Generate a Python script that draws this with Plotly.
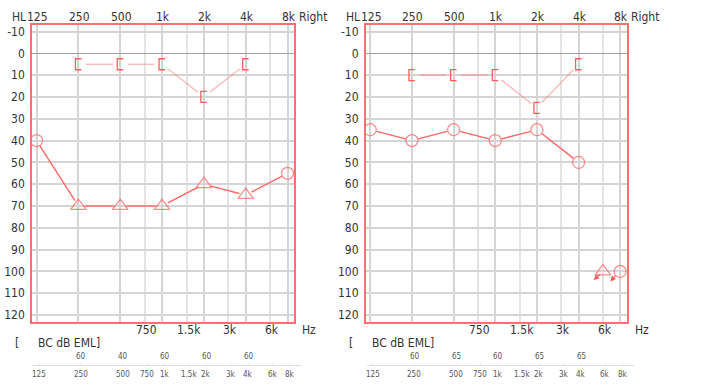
import math
import plotly.graph_objects as go

W, H = 711, 387

# ---------------- data ----------------
top_freqs = [125, 250, 500, 1000, 2000, 4000, 8000]
top_labels = ["125", "250", "500", "1k", "2k", "4k", "8k"]
mid_freqs = [750, 1500, 3000, 6000]
mid_labels = ["750", "1.5k", "3k", "6k"]
table_freqs = [125, 250, 500, 750, 1000, 1500, 2000, 3000, 4000, 6000, 8000]
table_labels = ["125", "250", "500", "750", "1k", "1.5k", "2k", "3k", "4k", "6k", "8k"]
db_ticks = list(range(-10, 121, 10))
db_tick_labels = [str(v) for v in db_ticks]

bc_freqs = [250, 500, 1000, 2000, 4000]
left_bc_db = [5, 5, 5, 20, 5]
right_bc_db = [10, 10, 10, 25, 5]

left_ac_freqs = [125, 250, 500, 1000, 2000, 4000, 8000]
left_ac_db = [40, 70, 70, 70, 60, 65, 55]
left_ac_masked = [False, True, True, True, True, True, False]

right_ac_freqs = [125, 250, 500, 1000, 2000, 4000]
right_ac_db = [35, 40, 35, 40, 35, 50]
right_ac_masked = [False, False, False, False, False, False]

right_nr_freqs = [6000, 8000]
right_nr_db = [100, 100]
right_nr_masked = [True, False]

eml_freqs = [250, 500, 1000, 2000, 4000]
left_eml = [60, 40, 60, 60, 60]
right_eml = [60, 65, 60, 65, 65]

# ---------------- geometry / style ----------------
X_RANGE = [-0.11, 6.155]
Y_RANGE = [123.2, -13.0]
TOP_PX, BOT_PX = 25, 322
PANELS = [(32, 294), (365.7, 626.7)]

RED = "#ff5c5c"
BOX = "#ff6f6f"
BC_LINE = "rgba(255,110,110,0.55)"
AC_LINE = "#ff6666"
TXT = "#333333"
FONT = "DejaVu Sans Condensed, Liberation Sans, Arial, sans-serif"


def octv(f):
    return math.log2(f / 125.0)


def ypaper(px):
    return 1 - px / H


def gapped(xs, ys, gap, kx, ky):
    ox, oy = [], []
    for i in range(len(xs) - 1):
        dx = (xs[i + 1] - xs[i]) * kx
        dy = (ys[i + 1] - ys[i]) * ky
        L = math.hypot(dx, dy)
        if L <= 2 * gap:
            continue
        t = gap / L
        ox += [xs[i] + (xs[i + 1] - xs[i]) * t, xs[i + 1] - (xs[i + 1] - xs[i]) * t, None]
        oy += [ys[i] + (ys[i + 1] - ys[i]) * t, ys[i + 1] - (ys[i + 1] - ys[i]) * t, None]
    return ox, oy


fig = go.Figure()
shapes = []
annotations = []

panel_data = [
    dict(bc=left_bc_db, ac_f=left_ac_freqs, ac_db=left_ac_db, ac_m=left_ac_masked,
         nr_f=[], nr_db=[], nr_m=[], eml=left_eml),
    dict(bc=right_bc_db, ac_f=right_ac_freqs, ac_db=right_ac_db, ac_m=right_ac_masked,
         nr_f=right_nr_freqs, nr_db=right_nr_db, nr_m=right_nr_masked, eml=right_eml),
]

for p, (px0, px1) in enumerate(PANELS):
    d = panel_data[p]
    xa = "x" if p == 0 else "x2"
    ya = "y" if p == 0 else "y2"
    kx = (px1 - px0) / (X_RANGE[1] - X_RANGE[0])
    ky = (BOT_PX - TOP_PX) / (Y_RANGE[0] - Y_RANGE[1])

    # bone conduction connecting lines
    bx = [octv(f) for f in bc_freqs]
    lx, ly = gapped(bx, d["bc"], 7.5, kx, ky)
    fig.add_trace(go.Scatter(x=lx, y=ly, mode="lines", xaxis=xa, yaxis=ya,
                             line=dict(color=BC_LINE, width=1.2), hoverinfo="skip", showlegend=False))
    # bracket markers
    for xv, yv in zip(bx, d["bc"]):
        shapes.append(dict(type="path", xref=xa, yref=ya, xsizemode="pixel", ysizemode="pixel",
                           xanchor=xv, yanchor=yv, path="M 3,5.5 L -3,5.5 L -3,-5.5 L 3,-5.5",
                           line=dict(color=RED, width=1.3)))

    # air conduction
    ax_ = [octv(f) for f in d["ac_f"]]
    lx, ly = gapped(ax_, d["ac_db"], 6.5, kx, ky)
    fig.add_trace(go.Scatter(x=lx, y=ly, mode="lines", xaxis=xa, yaxis=ya,
                             line=dict(color=AC_LINE, width=1.4), hoverinfo="skip", showlegend=False))
    allx = ax_ + [octv(f) for f in d["nr_f"]]
    ally = d["ac_db"] + d["nr_db"]
    allm = d["ac_m"] + d["nr_m"]
    fig.add_trace(go.Scatter(
        x=allx, y=ally, mode="markers", xaxis=xa, yaxis=ya,
        marker=dict(symbol=["triangle-up-open" if m else "circle-open" for m in allm],
                    size=[13.5 if m else 12 for m in allm], color=RED, line=dict(width=1.3, color=RED)),
        hoverinfo="skip", showlegend=False))
    # no-response arrows
    for f, v, m in zip(d["nr_f"], d["nr_db"], d["nr_m"]):
        if m:
            xs_, ys_, axo, ayo = -9.4, -8.5, 8.4, -7.3
        else:
            xs_, ys_, axo, ayo = -10, -10, 6.7, -7.3
        annotations.append(dict(x=octv(f), y=v, xref=xa, yref=ya, text="", showarrow=True,
                                arrowhead=2, arrowsize=0.9, arrowwidth=1.2, arrowcolor=RED,
                                xshift=xs_, yshift=ys_, ax=axo, ay=ayo))

    dom = "x domain" if p == 0 else "x2 domain"
    # top frequency labels
    for f, lab in zip(top_freqs, top_labels):
        annotations.append(dict(x=octv(f), y=ypaper(16.7), xref=xa, yref="paper", text=lab,
                                showarrow=False, xanchor="center", yanchor="middle", xshift=1,
                                font=dict(family=FONT, size=12, color=TXT)))
    annotations.append(dict(x=0, y=ypaper(16.7), xref=xa, yref="paper", text="HL", showarrow=False,
                            xanchor="right", yanchor="middle", xshift=-8.5,
                            font=dict(family=FONT, size=12, color=TXT)))
    annotations.append(dict(x=6, y=ypaper(16.7), xref=xa, yref="paper", text="Right", showarrow=False,
                            xanchor="left", yanchor="middle", xshift=9,
                            font=dict(family=FONT, size=12, color=TXT)))
    # mid labels below box
    for f, lab in zip(mid_freqs, mid_labels):
        annotations.append(dict(x=octv(f), y=ypaper(330), xref=xa, yref="paper", text=lab,
                                showarrow=False, xanchor="center", yanchor="middle", xshift=2,
                                font=dict(family=FONT, size=12, color=TXT)))
    annotations.append(dict(x=6, y=ypaper(330), xref=xa, yref="paper", text="Hz", showarrow=False,
                            xanchor="center", yanchor="middle", xshift=21.5,
                            font=dict(family=FONT, size=12, color=TXT)))
    # BC dB EML caption
    annotations.append(dict(x=0, y=ypaper(343), xref=dom, yref="paper", text="[", showarrow=False,
                            xanchor="center", yanchor="middle", xshift=-15,
                            font=dict(family=FONT, size=12, color=TXT)))
    annotations.append(dict(x=0, y=ypaper(343), xref=dom, yref="paper", text="BC dB EML]",
                            showarrow=False, xanchor="left", yanchor="middle", xshift=4,
                            font=dict(family=FONT, size=12, color=TXT)))
    # EML values
    for f, v in zip(eml_freqs, d["eml"]):
        annotations.append(dict(x=octv(f), y=ypaper(356.7), xref=xa, yref="paper", text=str(v),
                                showarrow=False, xanchor="center", yanchor="middle", xshift=2.8,
                                font=dict(family=FONT, size=8, color="#555555")))
    # table axis
    shapes.append(dict(type="line", xref=dom, yref="paper", x0=0.004, x1=1.027,
                       y0=ypaper(365.5), y1=ypaper(365.5), line=dict(color="#dddddd", width=1)))
    for f, lab in zip(table_freqs, table_labels):
        shapes.append(dict(type="line", xref=xa, yref="paper", xsizemode="pixel", xanchor=octv(f),
                           x0=2.5, x1=2.5, y0=ypaper(363.5), y1=ypaper(365.5),
                           line=dict(color="#dddddd", width=1)))
        annotations.append(dict(x=octv(f), y=ypaper(374), xref=xa, yref="paper", text=lab,
                                showarrow=False, xanchor="center", yanchor="middle", xshift=2.5,
                                font=dict(family=FONT, size=8, color="#555555")))

xaxis_common = dict(range=X_RANGE, showline=True, mirror=True, linecolor=BOX, linewidth=1.5,
                    tickmode="array", tickvals=[octv(f) for f in top_freqs], showticklabels=False,
                    ticks="", showgrid=True, gridcolor="#d4d4d4", gridwidth=1.5, zeroline=False,
                    minor=dict(tickmode="array", tickvals=[octv(f) for f in mid_freqs],
                               showgrid=True, gridcolor="#e4e4e4", gridwidth=1.5, ticks=""),
                    fixedrange=True, automargin=False)
yaxis_common = dict(range=Y_RANGE, showline=True, mirror=True, linecolor=BOX, linewidth=1.5,
                    tickmode="array", tickvals=db_ticks, ticktext=db_tick_labels,
                    ticks="outside", ticklen=3,
                    tickcolor="rgba(0,0,0,0)", tickfont=dict(family=FONT, size=12, color=TXT),
                    showgrid=True, gridcolor="#d4d4d4", gridwidth=1.5,
                    zeroline=True, zerolinecolor="#a0a0a0", zerolinewidth=1.3, fixedrange=True,
                    automargin=False)

fig.update_layout(
    width=W, height=H, margin=dict(l=0, r=0, t=0, b=0, autoexpand=False),
    paper_bgcolor="white", plot_bgcolor="white", showlegend=False,
    xaxis=dict(domain=[PANELS[0][0] / W, PANELS[0][1] / W], anchor="y", **xaxis_common),
    yaxis=dict(domain=[ypaper(BOT_PX), ypaper(TOP_PX)], anchor="x", **yaxis_common),
    xaxis2=dict(domain=[PANELS[1][0] / W, PANELS[1][1] / W], anchor="y2", **xaxis_common),
    yaxis2=dict(domain=[ypaper(BOT_PX), ypaper(TOP_PX)], anchor="x2", **yaxis_common),
    shapes=shapes, annotations=annotations,
)

fig.write_html("out.html", config={"displayModeBar": False},
               post_script="document.body.style.margin='0';document.body.style.padding='0';")
